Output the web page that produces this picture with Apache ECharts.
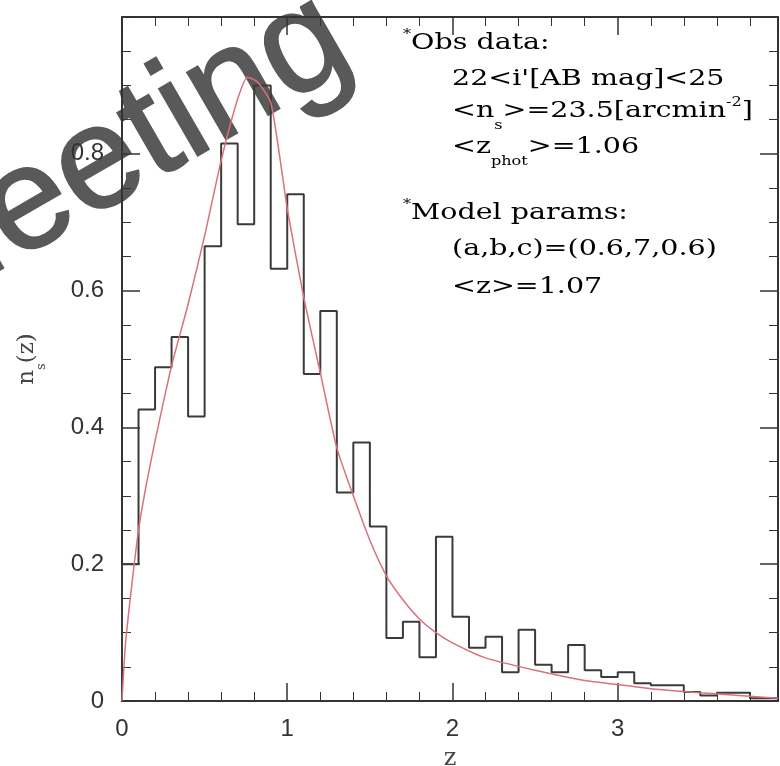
<!DOCTYPE html>
<html>
<head>
<meta charset="utf-8">
<script src="https://cdn.jsdelivr.net/npm/echarts@6/dist/echarts.min.js"></script>
<style>
html, body { margin: 0; padding: 0; background: #fff; }
#chart { width: 780px; height: 766px; }
</style>
</head>
<body>
<div id="chart"></div>
<script>
// observed histogram, bins of 0.1 in z starting at 0
var binWidth = 0.1
var binCounts = [0.200, 0.426, 0.488, 0.532, 0.416, 0.665, 0.815, 0.697, 0.900, 0.632,
                 0.741, 0.478, 0.570, 0.305, 0.378, 0.255, 0.092, 0.116, 0.064, 0.240,
                 0.123, 0.078, 0.094, 0.042, 0.104, 0.053, 0.042, 0.082, 0.045, 0.035,
                 0.042, 0.026, 0.023, 0.023, 0.013, 0.008, 0.012, 0.012, 0.004, 0.004]

// model curve
var modelZ = [0, 0.02, 0.05, 0.1, 0.15, 0.2, 0.3, 0.4, 0.5, 0.6, 0.7, 0.76, 0.82, 0.9, 0.97,
              1.0, 1.1, 1.2, 1.3, 1.4, 1.5, 1.6, 1.7, 1.8, 1.9, 2.0, 2.2, 2.5, 2.8, 3.0, 3.2, 3.5, 3.8, 3.97]
var modelN = [0, 0.08, 0.15, 0.25, 0.32, 0.38, 0.49, 0.58, 0.68, 0.79, 0.88, 0.912, 0.905, 0.875, 0.77,
              0.72, 0.59, 0.48, 0.37, 0.30, 0.235, 0.183, 0.148, 0.12, 0.10, 0.085, 0.063, 0.045, 0.030, 0.024, 0.018, 0.012, 0.007, 0.004]

var obsLines = [
  '{sup|*}{t|Obs data:}',
  '{t|22<i\'[AB mag]<25}',
  '{t|<n}{sub|s}{t|>=23.5[arcmin}{sup|-2}{t|]}',
  '{t|<z}{sub|phot}{t|>=1.06}'
]
var modelLines = [
  '{sup|*}{t|Model params:}',
  '{t|(a,b,c)=(0.6,7,0.6)}',
  '{t|<z>=1.07}'
]

var histData = [[0, 0]]
binCounts.forEach(function (v, i) { histData.push([i * binWidth, v]) })
histData.push([binCounts.length * binWidth, binCounts[binCounts.length - 1]])

var modelData = modelZ.map(function (z, i) { return [z, modelN[i]] })

var ink = '#333'
var textInk = '#444'
var serif = '"DejaVu Serif", serif'
var rich = {
  t: { fontSize: 23, fontFamily: serif, color: textInk, lineHeight: 30 },
  sub: { fontSize: 13, fontFamily: serif, color: textInk, lineHeight: 30, verticalAlign: 'bottom', padding: [0, 0, -6, 0] },
  sup: { fontSize: 13, fontFamily: serif, color: textInk, lineHeight: 30, verticalAlign: 'top' }
}

function textEl(str, left, top) {
  return { type: 'text', x: left, y: top, scaleX: 1.24, z: 50, style: { text: str, rich: rich } }
}

var frameAxis = {
  axisLine: { onZero: false, lineStyle: { color: ink, width: 2 } },
  axisTick: { inside: true, length: 18, lineStyle: { color: ink, width: 1.5 } },
  minorTick: { show: true, length: 9, lineStyle: { color: ink, width: 1 } },
  splitLine: { show: false }
}

var chart = echarts.init(document.getElementById('chart'))
chart.setOption({
  animation: false,
  backgroundColor: '#fff',
  grid: { left: 122, right: 2, top: 17, bottom: 65, outerBoundsMode: 'none' },
  xAxis: [
    Object.assign({}, frameAxis, {
      type: 'value', min: 0, max: 3.97, interval: 1, position: 'bottom',
      minorTick: Object.assign({}, frameAxis.minorTick, { splitNumber: 5 }),
      axisLabel: { fontSize: 24, color: ink, margin: 16, showMaxLabel: false, fontFamily: 'Liberation Sans' },
      name: 'z', nameLocation: 'middle', nameGap: 46,
      nameTextStyle: { fontSize: 24, color: textInk, fontFamily: serif }
    }),
    Object.assign({}, frameAxis, {
      type: 'value', min: 0, max: 3.97, interval: 1, position: 'top',
      minorTick: Object.assign({}, frameAxis.minorTick, { splitNumber: 5 }),
      axisLabel: { show: false }
    })
  ],
  yAxis: [
    Object.assign({}, frameAxis, {
      type: 'value', min: 0, max: 1.0, interval: 0.2, position: 'left',
      minorTick: Object.assign({}, frameAxis.minorTick, { splitNumber: 4 }),
      axisLabel: { fontSize: 24, color: ink, margin: 18, showMaxLabel: false, fontFamily: 'Liberation Sans' },
      name: '{t|n}{sub|s}{t|(z)}', nameLocation: 'middle', nameGap: 80,
      nameTextStyle: { rich: rich }
    }),
    Object.assign({}, frameAxis, {
      type: 'value', min: 0, max: 1.0, interval: 0.2, position: 'right',
      minorTick: Object.assign({}, frameAxis.minorTick, { splitNumber: 4 }),
      axisLabel: { show: false }
    })
  ],
  series: [
    {
      type: 'line', data: histData, step: 'end', showSymbol: false,
      lineStyle: { color: '#3a3a3a', width: 2 }, z: 3
    },
    {
      type: 'line', data: modelData, smooth: 0.2, showSymbol: false,
      lineStyle: { color: '#d9707c', width: 1.5 }, z: 4
    }
  ],
  graphic: [
    // scanned watermark lying over the top-left corner
    {
      type: 'text', x: -112, y: 288, rotation: 30 * Math.PI / 180, z: -1, silent: true,
      style: {
        text: 'Meeting', font: '146px "Liberation Sans"', fill: '#595959', stroke: '#595959', lineWidth: 2,
        textAlign: 'left', textVerticalAlign: 'middle', align: 'left', verticalAlign: 'middle'
      }
    },
    textEl(obsLines[0], 403, 28),
    textEl(obsLines[1], 452, 64),
    textEl(obsLines[2], 452, 96),
    textEl(obsLines[3], 452, 132),
    textEl(modelLines[0], 403, 198),
    textEl(modelLines[1], 452, 234),
    textEl(modelLines[2], 452, 272)
  ]
})
</script>
</body>
</html>
